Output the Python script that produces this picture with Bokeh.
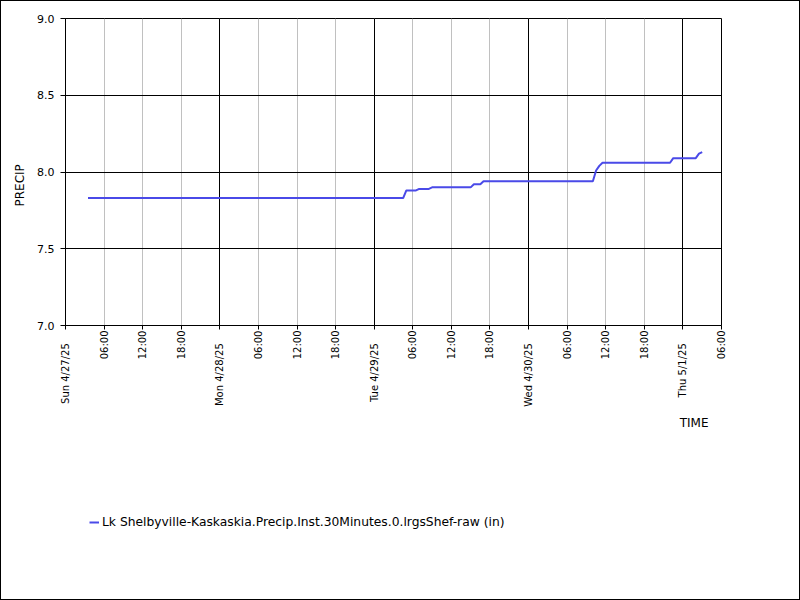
import math
import pandas as pd
from bokeh.plotting import figure
from bokeh.layouts import column
from bokeh.models import (FixedTicker, DatetimeAxis, CustomJSTickFormatter, Legend, LegendItem,
                          Title, Range1d, PrintfTickFormatter, Grid, ColumnDataSource)
from bokeh.embed import file_html
from bokeh.resources import INLINE

# ---- data ----
times = ["2025-04-27 03:30", "2025-04-29 04:30", "2025-04-29 05:00", "2025-04-29 06:30",
         "2025-04-29 07:00", "2025-04-29 08:30", "2025-04-29 09:00", "2025-04-29 15:00",
         "2025-04-29 15:30", "2025-04-29 16:30", "2025-04-29 17:00", "2025-04-30 10:00",
         "2025-04-30 10:30", "2025-04-30 11:00", "2025-04-30 11:30", "2025-04-30 22:00",
         "2025-04-30 22:30", "2025-05-01 02:00", "2025-05-01 02:30", "2025-05-01 03:00"]
precip = [7.83, 7.83, 7.88, 7.88,
          7.89, 7.89, 7.90, 7.90,
          7.92, 7.92, 7.94, 7.94,
          8.01, 8.04, 8.06, 8.06,
          8.09, 8.09, 8.12, 8.13]
x_start = "2025-04-27 00:00"
x_end = "2025-05-01 06:00"
y_ticks = [7.0, 7.5, 8.0, 8.5, 9.0]
x_tick_labels = ["Sun 4/27/25", "06:00", "12:00", "18:00",
                 "Mon 4/28/25", "06:00", "12:00", "18:00",
                 "Tue 4/29/25", "06:00", "12:00", "18:00",
                 "Wed 4/30/25", "06:00", "12:00", "18:00",
                 "Thu 5/1/25", "06:00"]
series_label = "Lk Shelbyville-Kaskaskia.Precip.Inst.30Minutes.0.lrgsShef-raw (in)"
y_label = "PRECIP"
x_label = "TIME"

# ---- build ----
FONT = "DejaVu Sans"
NB = "\u00a0"
LINE_COLOR = "#4a4ae8"
t = pd.to_datetime(times)
start = pd.Timestamp(x_start)
end = pd.Timestamp(x_end)
six_h = pd.date_range(start, end, freq="6h")
tick_ms = [float(ts.value // 10**6) for ts in six_h]
day_ms = [float(ts.value // 10**6) for ts in six_h if ts.hour == 0]
labels = [lab + NB * 4 if i % 4 == 0 else lab for i, lab in enumerate(x_tick_labels)]

src = ColumnDataSource(dict(t=t, v=precip))

W = 798
H1 = 444
H2 = 598 - H1

p = figure(width=W, height=H1, x_axis_type="datetime",
           x_range=Range1d(start, end), y_range=Range1d(y_ticks[0], y_ticks[-1]),
           output_backend="svg", toolbar_location=None,
           min_border_left=64, min_border_right=78, min_border_top=17, min_border_bottom=H1 - 17 - 307)
p.outline_line_color = "black"
p.background_fill_color = "white"
p.border_fill_color = "white"

r = p.line("t", "v", source=src, line_color=LINE_COLOR, line_width=2)

# x axis
xa = p.xaxis[0]
xa.ticker = FixedTicker(ticks=tick_ms, minor_ticks=[])
xa.formatter = CustomJSTickFormatter(args=dict(tvals=tick_ms, tlabels=labels),
                                     code="const i = tvals.indexOf(tick); return i >= 0 ? tlabels[i] : '';")
xa.major_label_orientation = math.pi / 2
xa.major_tick_out = 4
xa.major_tick_in = 0
xa.minor_tick_out = 0
xa.minor_tick_in = 0
xa.major_label_standoff = 1
xa.major_label_text_font = FONT
xa.major_label_text_font_size = "10px"
xa.major_label_text_color = "black"
xa.axis_line_color = "black"

# long day ticks
day_axis = DatetimeAxis(fixed_location=y_ticks[0], ticker=FixedTicker(ticks=day_ms, minor_ticks=[]),
                        formatter=CustomJSTickFormatter(code="return '';"),
                        major_tick_out=18, major_tick_in=0, minor_tick_out=0, minor_tick_in=0,
                        axis_line_color=None, major_tick_line_color="black",
                        major_label_text_font_size="0px")
p.add_layout(day_axis, "below")

# y axis
ya = p.yaxis[0]
ya.ticker = FixedTicker(ticks=y_ticks, minor_ticks=[])
ya.formatter = PrintfTickFormatter(format="%.1f")
ya.major_tick_out = 5
ya.major_tick_in = 0
ya.minor_tick_out = 0
ya.minor_tick_in = 0
ya.major_label_standoff = 6
ya.major_label_text_font = FONT
ya.major_label_text_font_size = "11px"
ya.major_label_text_color = "black"
ya.axis_label = y_label + NB * 7
ya.axis_label_text_font = FONT
ya.axis_label_text_font_size = "12px"
ya.axis_label_text_font_style = "normal"
ya.axis_label_text_color = "black"
ya.axis_label_standoff = 7

# grids
p.xgrid.ticker = FixedTicker(ticks=tick_ms)
p.xgrid.grid_line_color = "#c0c0c0"
p.xgrid.grid_line_width = 1
p.ygrid.ticker = FixedTicker(ticks=y_ticks)
p.ygrid.grid_line_color = "black"
day_grid = Grid(dimension=0, ticker=FixedTicker(ticks=day_ms), grid_line_color="black", grid_line_width=1)
p.add_layout(day_grid)

# TIME label
p.add_layout(Title(text=x_label, align="right", text_font=FONT, text_font_size="12px",
                   text_font_style="normal", text_color="black", offset=13, standoff=8), "below")

# ---- legend strip underneath ----
p2 = figure(width=W, height=H2, output_backend="svg", toolbar_location=None,
            x_axis_location=None, y_axis_location=None,
            min_border_left=0, min_border_right=0, min_border_top=0, min_border_bottom=0)
p2.outline_line_color = None
p2.xgrid.visible = False
p2.ygrid.visible = False
p2.background_fill_color = "white"
p2.border_fill_color = "white"
r2 = p2.line("t", "v", source=src, line_color=LINE_COLOR, line_width=2, visible=False)
legend = Legend(items=[LegendItem(label=series_label, renderers=[r2])], location=(24, H2 - 87),
                border_line_color=None, background_fill_alpha=0, glyph_width=10, label_standoff=3,
                label_text_font=FONT, label_text_font_size="12.3px", label_text_color="black",
                padding=10, margin=0, inactive_fill_alpha=0)
p2.add_layout(legend)

layout = column(p, p2, spacing=0, styles={"border": "1px solid black"})

open("out.html", "w").write(file_html(layout, INLINE))
